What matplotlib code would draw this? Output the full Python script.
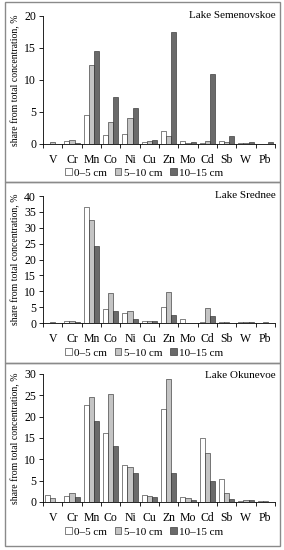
import numpy as np
import matplotlib.pyplot as plt
from matplotlib.patches import Rectangle

plt.rcParams['font.family'] = ['Liberation Serif', 'DejaVu Serif']

elements = ['V', 'Cr', 'Mn', 'Co', 'Ni', 'Cu', 'Zn', 'Mo', 'Cd', 'Sb', 'W', 'Pb']
layers = ['0\u20135 cm', '5\u201310 cm', '10\u201315 cm']

# Lake Semenovskoe
sem_0_5 = [0.05, 0.5, 4.6, 1.4, 1.6, 0.3, 2.0, 0.4, 0.1, 0.4, 0.2, 0.05]
sem_5_10 = [0.3, 0.7, 12.3, 3.5, 4.1, 0.5, 1.3, 0.2, 0.4, 0.3, 0.1, 0.05]
sem_10_15 = [0.05, 0.15, 14.6, 7.4, 5.6, 0.6, 17.5, 0.3, 10.9, 1.2, 0.25, 0.25]

# Lake Srednee
sre_0_5 = [0.1, 0.5, 36.5, 4.5, 3.3, 0.7, 5.0, 1.2, 0.2, 0.3, 0.3, 0.1]
sre_5_10 = [0.2, 0.6, 32.3, 9.5, 3.7, 0.7, 9.8, 0.1, 4.8, 0.2, 0.3, 0.3]
sre_10_15 = [0.05, 0.4, 24.3, 3.9, 1.3, 0.5, 2.4, 0.1, 2.2, 0.1, 0.3, 0.1]

# Lake Okunevoe
oku_0_5 = [1.7, 1.4, 22.7, 16.2, 8.7, 1.6, 21.9, 1.1, 15.0, 5.5, 0.3, 0.3]
oku_5_10 = [0.9, 2.1, 24.6, 25.3, 8.3, 1.5, 28.8, 0.9, 11.4, 2.1, 0.4, 0.3]
oku_10_15 = [0.1, 1.2, 19.1, 13.1, 6.9, 1.2, 6.9, 0.5, 5.0, 0.8, 0.4, 0.1]

panels = [
    ('Lake Semenovskoe', [sem_0_5, sem_5_10, sem_10_15], 20, 5),
    ('Lake Srednee', [sre_0_5, sre_5_10, sre_10_15], 40, 5),
    ('Lake Okunevoe', [oku_0_5, oku_5_10, oku_10_15], 30, 5),
]

colors = ['white', '#c4c4c4', '#6a6a6a']
W, H = 284, 550
fig = plt.figure(figsize=(W / 100, H / 100), dpi=100)

# axes boxes in pixels: (top, bottom)
ax_pix = [(16, 144), (196, 323), (374, 502)]
frames = [(2, 182), (182, 363), (363, 546)]
legend_y = [173, 353, 532]
left, right = 43, 275

for (name, series, ymax, step), (top, bot), (ft, fb), ly in zip(panels, ax_pix, frames, legend_y):
    fig.patches.append(Rectangle((5 / W, 1 - fb / H), 275 / W, (fb - ft) / H,
                                 transform=fig.transFigure, fill=False,
                                 edgecolor='#8a8a8a', lw=1.0))
    ax = fig.add_axes([left / W, 1 - bot / H, (right - left) / W, (bot - top) / H])
    x = np.arange(len(elements))
    bw = 0.26
    for i, (vals, c) in enumerate(zip(series, colors)):
        ax.bar(x + (i - 1) * bw, vals, bw, color=c, edgecolor='#222222', lw=0.4,
               label=layers[i])
    ax.set_xlim(-0.5, len(elements) - 0.5)
    ax.set_ylim(0, ymax)
    ax.set_yticks(np.arange(0, ymax + 1, step))
    ax.set_xticks(x)
    ax.set_xticklabels(elements)
    ax.set_xticks(np.arange(-0.5, len(elements), 1), minor=True)
    ax.tick_params(axis='x', which='major', length=0, labelsize=8.5, pad=7)
    ax.tick_params(axis='x', which='minor', length=3, direction='out', width=0.6)
    ax.tick_params(axis='y', length=3, width=0.6, labelsize=8.5, pad=2)
    for s in ['top', 'right']:
        ax.spines[s].set_visible(False)
    for s in ['left', 'bottom']:
        ax.spines[s].set_linewidth(0.6)
    ax.set_ylabel('share from total concentration, %', fontsize=7, labelpad=3)
    fig.text(276 / W, 1 - (ft + 13) / H, name, ha='right', va='center', fontsize=8)
    fig.legend(*ax.get_legend_handles_labels(), loc='center',
               bbox_to_anchor=(144 / W, 1 - ly / H), ncol=3, frameon=False,
               fontsize=8, handlelength=0.6, handleheight=0.6,
               handletextpad=0.2, columnspacing=0.7, borderpad=0)

fig.savefig('out.png', dpi=100)
